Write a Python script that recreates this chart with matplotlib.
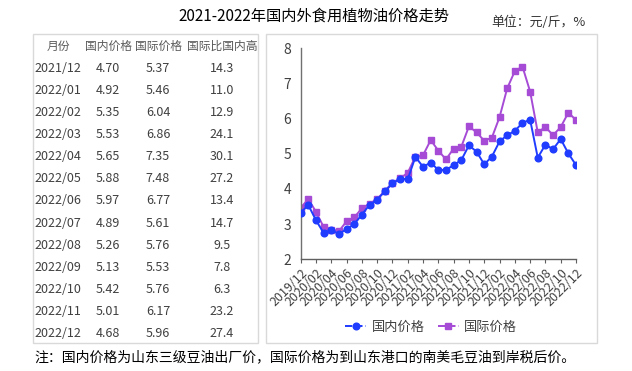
import matplotlib
matplotlib.use("Agg")
import matplotlib.pyplot as plt
from matplotlib.patches import Rectangle
from matplotlib.lines import Line2D

plt.rcParams['font.family'] = ['Noto Sans CJK SC', 'DejaVu Sans']

# ---------------- data ----------------
months = ['2019/12', '2020/01', '2020/02', '2020/03', '2020/04', '2020/05', '2020/06',
          '2020/07', '2020/08', '2020/09', '2020/10', '2020/11', '2020/12',
          '2021/01', '2021/02', '2021/03', '2021/04', '2021/05', '2021/06',
          '2021/07', '2021/08', '2021/09', '2021/10', '2021/11', '2021/12',
          '2022/01', '2022/02', '2022/03', '2022/04', '2022/05', '2022/06',
          '2022/07', '2022/08', '2022/09', '2022/10', '2022/11', '2022/12']
domestic = [3.33, 3.54, 3.11, 2.75, 2.83, 2.72, 2.86, 3.00, 3.27, 3.55, 3.70, 3.93,
            4.16, 4.29, 4.28, 4.91, 4.63, 4.75, 4.54, 4.54, 4.68, 4.82, 5.24, 5.06,
            4.70, 4.92, 5.35, 5.53, 5.65, 5.88, 5.97, 4.89, 5.26, 5.13, 5.42, 5.01, 4.68]
international = [3.47, 3.71, 3.35, 2.92, 2.84, 2.80, 3.08, 3.19, 3.45, 3.58, 3.71, 3.95,
                 4.17, 4.30, 4.46, 4.92, 4.96, 5.39, 5.09, 4.84, 5.15, 5.20, 5.78, 5.61,
                 5.37, 5.46, 6.04, 6.86, 7.35, 7.48, 6.77, 5.61, 5.76, 5.53, 5.76, 6.17, 5.96]
table_months = months[-13:]
table_domestic = domestic[-13:]
table_international = international[-13:]
table_ratio = [14.3, 11.0, 12.9, 24.1, 30.1, 27.2, 13.4, 14.7, 9.5, 7.8, 6.3, 23.2, 27.4]
table_headers = ['月份', '国内价格', '国际价格', '国际比国内高']
series_names = ['国内价格', '国际价格']

title = '2021-2022年国内外食用植物油价格走势'
unit = '单位：元/斤，%'
note = '注：国内价格为山东三级豆油出厂价，国际价格为到山东港口的南美毛豆油到岸税后价。'

# ---------------- layout ----------------
W, H = 632, 371
fig = plt.figure(figsize=(W / 100, H / 100), dpi=100)
fig.patch.set_facecolor('white')

def fx(x):
    return x / W

def fy(y):
    return 1 - y / H

# boxes
for (x0, x1) in [(33, 258), (266, 597)]:
    fig.patches.append(Rectangle((fx(x0), fy(343)), fx(x1) - fx(x0), fy(34) - fy(343),
                                 transform=fig.transFigure, fill=False,
                                 edgecolor='#d9d9d9', linewidth=1.0))

fig.text(fx(314), fy(16), title, ha='center', va='center', fontsize=11, color='#000000')
fig.text(fx(538), fy(22), unit, ha='center', va='center', fontsize=9.3, color='#333333')
fig.text(fx(34), fy(357), note, ha='left', va='center', fontsize=10, color='#000000')

# table
col_centers = [58, 108, 158, 222]
header_y = 46
row_h = 22.13
tcolor = '#404040'
for c, h in zip(col_centers, table_headers):
    fig.text(fx(c), fy(header_y), h, ha='center', va='center', fontsize=8.5, color='#595959')
for i in range(len(table_months)):
    y = header_y + (i + 1) * row_h
    vals = [table_months[i], '%.2f' % table_domestic[i], '%.2f' % table_international[i],
            '%.1f' % table_ratio[i]]
    for c, v in zip(col_centers, vals):
        fig.text(fx(c), fy(y), v, ha='center', va='center', fontsize=9, color=tcolor)

# chart
ax = fig.add_axes([fx(300.7), fy(259.3), fx(576) - fx(300.7), fy(48.3) - fy(259.3)])
x = list(range(len(months)))
blue = '#1f3cff'
purple = '#a64bd6'
ax.plot(x, international, color=purple, marker='s', markersize=4.8, linewidth=1.4,
        label=series_names[1], zorder=2)
ax.plot(x, domestic, color=blue, marker='o', markersize=4.8, linewidth=1.4,
        label=series_names[0], zorder=3)
ax.set_xlim(0, len(months) - 1)
ax.set_ylim(2, 8)
ax.set_yticks([2, 3, 4, 5, 6, 7, 8])
ax.set_xticks(x[::2])
ax.set_xticklabels(months[::2], rotation=45, ha='right', rotation_mode='anchor',
                   fontsize=9, color='#404040')
ax.tick_params(axis='y', length=0, pad=7, labelsize=10, labelcolor='#404040')
ax.tick_params(axis='x', length=3, width=0.8, color='#606060', pad=2)
for s in ['top', 'right']:
    ax.spines[s].set_visible(False)
ax.spines['left'].set_color('#707070')
ax.spines['bottom'].set_color('#606060')
ax.spines['left'].set_linewidth(1.0)
ax.spines['bottom'].set_linewidth(1.0)
ax.set_facecolor('none')

handles = [Line2D([], [], color=blue, marker='o', markersize=4.8, linewidth=1.4, linestyle='--'),
           Line2D([], [], color=purple, marker='s', markersize=4.8, linewidth=1.4, linestyle='--')]
fig.legend(handles, series_names, loc='center', bbox_to_anchor=(fx(431), fy(327)), ncol=2,
           frameon=False, fontsize=9.5, handlelength=1.6, handletextpad=0.4,
           columnspacing=1.0, labelcolor='#404040')

fig.savefig('out.png', dpi=100)
